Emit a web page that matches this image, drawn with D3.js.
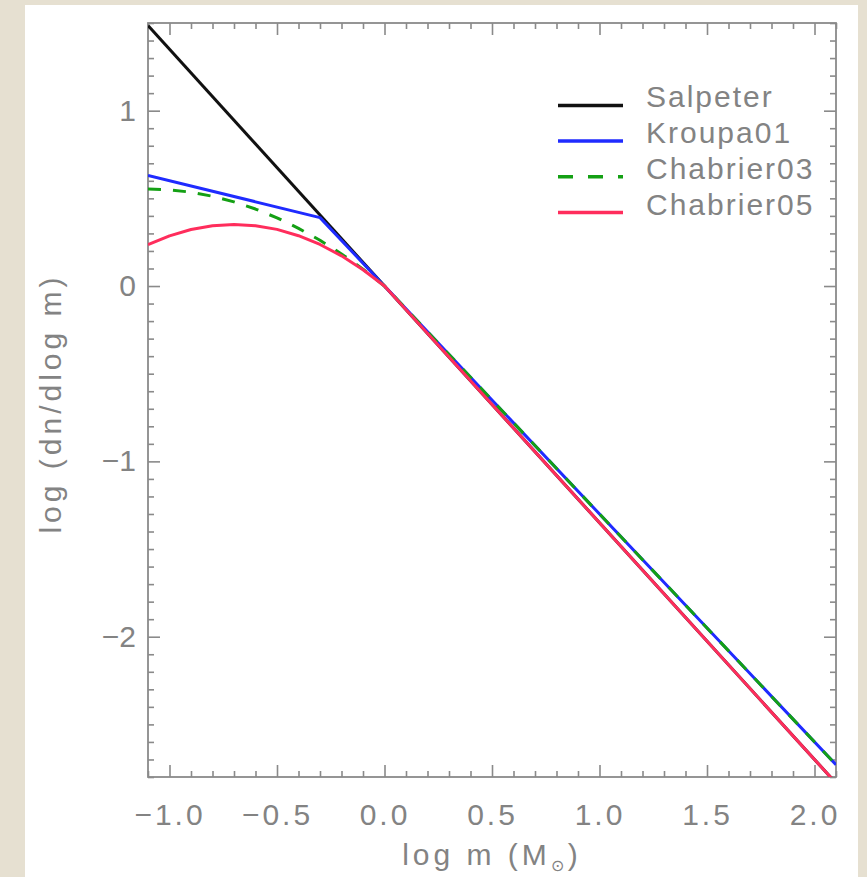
<!DOCTYPE html>
<html>
<head>
<meta charset="utf-8">
<script src="https://cdn.jsdelivr.net/npm/d3@7"></script>
<style>
  body { margin: 0; background: #e6e0d1; }
  svg { display: block; }
  .tickText { font-family: "Liberation Sans", Arial, sans-serif; font-size: 30px; fill: #838383; }
  .aText { font-family: "Liberation Sans", Arial, sans-serif; font-size: 30px; fill: #838383; letter-spacing: 4px; }
  .legText { font-family: "Liberation Sans", Arial, sans-serif; font-size: 30px; fill: #838383; letter-spacing: 2px; }
</style>
</head>
<body>
<div id="chart"></div>
<script>
// data: log m (Msun) vs log(dn/dlog m)
var salpeterX = [-1.1, 2.1];
var salpeterY = [1.485, -2.835];

var kroupaX = [-1.1, -0.3, 2.1];
var kroupaY = [0.631, 0.39, -2.73];

var chab03X = [-1.1, -1.0, -0.9, -0.8, -0.7, -0.6, -0.5, -0.4, -0.3, -0.2, -0.1, 0.0, 2.1];
var chab03Y = [0.554, 0.549, 0.535, 0.512, 0.480, 0.439, 0.389, 0.329, 0.261, 0.183, 0.096, 0.0, -2.73];

var chab05X = [-1.1, -1.0, -0.9, -0.8, -0.7, -0.6, -0.5, -0.4, -0.3, -0.2, -0.1, 0.0, 2.1];
var chab05Y = [0.236, 0.286, 0.322, 0.344, 0.351, 0.344, 0.323, 0.287, 0.237, 0.172, 0.093, 0.0, -2.835];

var seriesNames = ["Salpeter", "Kroupa01", "Chabrier03", "Chabrier05"];

var xTicks = [-1.0, -0.5, 0.0, 0.5, 1.0, 1.5, 2.0];
var yTicks = [-2, -1, 0, 1];

var svgWidth = 867;
var svgHeight = 877;

var margin = {
    top: 23,
    right: 31,
    bottom: 100,
    left: 148
};

var width = svgWidth - margin.left - margin.right;
var height = svgHeight - margin.top - margin.bottom;

var svg = d3.select("#chart")
    .append("svg")
    .attr("width", svgWidth)
    .attr("height", svgHeight);

// white panel on the beige page
svg.append("rect")
    .attr("x", 25)
    .attr("y", 5)
    .attr("width", 833)
    .attr("height", svgHeight)
    .attr("fill", "#ffffff");

var chartGroup = svg.append("g")
    .attr("transform", `translate(${margin.left}, ${margin.top})`);

var xScale = d3.scaleLinear()
    .domain([-1.1, 2.1])
    .range([0, width]);

var yScale = d3.scaleLinear()
    .domain([-2.8, 1.5])
    .range([height, 0]);

var xMinor = d3.range(-11, 22).map(d => d / 10).filter(d => xTicks.indexOf(d) < 0);
var yMinor = d3.range(-28, 16).map(d => d / 10).filter(d => yTicks.indexOf(d) < 0);

var axisColor = "#8a8a8a";

function styleAxis(g) {
    g.select(".domain").remove();
    g.selectAll("line").attr("stroke", axisColor).attr("stroke-width", 1.6);
    g.selectAll("text").attr("class", "tickText").attr("fill", null);
}

// bottom axis, ticks point inward
chartGroup.append("g")
    .attr("transform", `translate(0, ${height})`)
    .call(d3.axisBottom(xScale).tickValues(xTicks).tickSizeInner(-12).tickSizeOuter(0)
        .tickPadding(27).tickFormat(d3.format(".1f")))
    .call(styleAxis)
    .selectAll("text").attr("y", 27).style("letter-spacing", "3px");

chartGroup.append("g")
    .attr("transform", `translate(0, ${height})`)
    .call(d3.axisBottom(xScale).tickValues(xMinor).tickSizeInner(-6).tickSizeOuter(0).tickFormat(""))
    .call(styleAxis);

// top axis
chartGroup.append("g")
    .call(d3.axisTop(xScale).tickValues(xTicks).tickSizeInner(-12).tickSizeOuter(0).tickFormat(""))
    .call(styleAxis);

chartGroup.append("g")
    .call(d3.axisTop(xScale).tickValues(xMinor).tickSizeInner(-6).tickSizeOuter(0).tickFormat(""))
    .call(styleAxis);

// left axis
chartGroup.append("g")
    .call(d3.axisLeft(yScale).tickValues(yTicks).tickSizeInner(-12).tickSizeOuter(0)
        .tickPadding(12).tickFormat(d3.format("d")))
    .call(styleAxis);

chartGroup.append("g")
    .call(d3.axisLeft(yScale).tickValues(yMinor).tickSizeInner(-6).tickSizeOuter(0).tickFormat(""))
    .call(styleAxis);

// right axis
chartGroup.append("g")
    .attr("transform", `translate(${width}, 0)`)
    .call(d3.axisRight(yScale).tickValues(yTicks).tickSizeInner(-12).tickSizeOuter(0).tickFormat(""))
    .call(styleAxis);

chartGroup.append("g")
    .attr("transform", `translate(${width}, 0)`)
    .call(d3.axisRight(yScale).tickValues(yMinor).tickSizeInner(-6).tickSizeOuter(0).tickFormat(""))
    .call(styleAxis);

// frame
chartGroup.append("rect")
    .attr("width", width)
    .attr("height", height)
    .attr("fill", "none")
    .attr("stroke", axisColor)
    .attr("stroke-width", 1.8);

// clip the curves to the frame
svg.append("defs").append("clipPath")
    .attr("id", "plotClip")
    .append("rect")
    .attr("width", width)
    .attr("height", height);

var series = [
    { name: seriesNames[0], x: salpeterX, y: salpeterY, color: "#111111", dash: null },
    { name: seriesNames[1], x: kroupaX, y: kroupaY, color: "#1f2bff", dash: null },
    { name: seriesNames[2], x: chab03X, y: chab03Y, color: "#14a014", dash: "13,12" },
    { name: seriesNames[3], x: chab05X, y: chab05Y, color: "#ff2d5c", dash: null }
];

var line = d3.line()
    .x(d => xScale(d[0]))
    .y(d => yScale(d[1]));

var lineGroup = chartGroup.append("g").attr("clip-path", "url(#plotClip)");

// draw order: Salpeter, Kroupa, dashed Chabrier03, then Chabrier05 on top
[0, 1, 2, 3].forEach(function(i) {
    var s = series[i];
    lineGroup.append("path")
        .datum(s.x.map((v, j) => [v, s.y[j]]))
        .attr("d", line)
        .attr("fill", "none")
        .attr("stroke", s.color)
        .attr("stroke-width", 3)
        .attr("stroke-linejoin", "round")
        .attr("stroke-dasharray", s.dash);
});

// legend
var legend = chartGroup.append("g")
    .attr("transform", `translate(${xScale(0.807)}, ${yScale(1.03)})`);

series.forEach(function(s, i) {
    legend.append("line")
        .attr("x1", 0)
        .attr("x2", 65)
        .attr("y1", i * 35.7)
        .attr("y2", i * 35.7)
        .attr("stroke", s.color)
        .attr("stroke-width", 3.5)
        .attr("stroke-dasharray", s.dash ? "15,15" : null);
    legend.append("text")
        .attr("class", "legText")
        .attr("x", 88)
        .attr("y", i * 35.7 + 2)
        .text(s.name);
});

// axis labels
chartGroup.append("text")
    .attr("transform", "rotate(-90)")
    .attr("x", -(yScale(-0.67)))
    .attr("y", -margin.left + 61)
    .attr("text-anchor", "middle")
    .attr("class", "aText")
    .text("log (dn/dlog m)");

var xLabel = chartGroup.append("text")
    .attr("x", width / 2)
    .attr("y", height + 88)
    .attr("text-anchor", "middle")
    .attr("class", "aText");
xLabel.append("tspan").text("log m (M");
xLabel.append("tspan").attr("dy", 6).style("font-size", "16px").text("\u2299");
xLabel.append("tspan").attr("dy", -6).text(")");
</script>
</body>
</html>
